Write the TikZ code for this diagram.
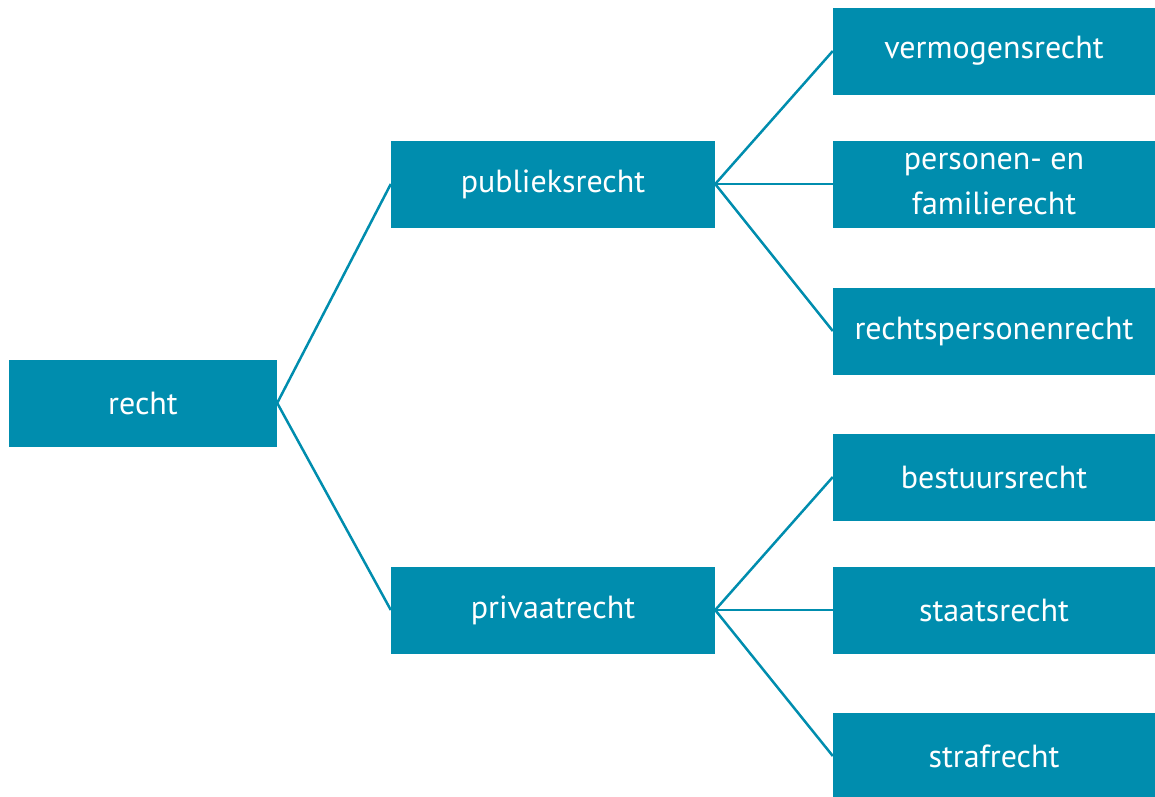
\documentclass[tikz,border=0pt]{standalone}
\usepackage{fontspec}
\setmainfont{PT Sans}
\definecolor{tealcustom}{RGB}{0,141,174}

\begin{document}
\begin{tikzpicture}[x=1pt,y=-1pt,
        rechtbox/.style={fill=tealcustom, rectangle, inner sep=0pt, minimum height=87pt, text=white, align=center, font=\fontsize{32}{45}\selectfont},
        link/.style={draw=tealcustom, line width=2.5pt}]
        % Fix the size of the page
        \useasboundingbox (0,0) rectangle (1155,796);

        % Root and the two main branches
        \node[rechtbox, minimum width=268pt] (recht) at (143,403) {recht};
        \node[rechtbox, minimum width=324pt] (publiek) at (553,184) {publieksrecht};
        \node[rechtbox, minimum width=324pt] (privaat) at (553,610) {privaatrecht};

        % Leaves on the right
        \node[rechtbox, minimum width=322pt] (vermogen) at (994,51) {vermogensrecht};
        \node[rechtbox, minimum width=322pt] (familie) at (994,184) {personen- en\\familierecht};
        \node[rechtbox, minimum width=322pt] (rechtspers) at (994,331) {rechtspersonenrecht};
        \node[rechtbox, minimum width=322pt] (bestuur) at (994,477) {bestuursrecht};
        \node[rechtbox, minimum width=322pt] (staat) at (994,610) {staatsrecht};
        \node[rechtbox, minimum width=322pt] (straf) at (994,756) {strafrecht};

        % Connecting lines
        \draw[link] (recht.east) -- (publiek.west);
        \draw[link] (recht.east) -- (privaat.west);
        \foreach \leaf in {vermogen, familie, rechtspers}
            \draw[link] (publiek.east) -- (\leaf.west);
        \foreach \leaf in {bestuur, staat, straf}
            \draw[link] (privaat.east) -- (\leaf.west);
    \end{tikzpicture}
\end{document}
